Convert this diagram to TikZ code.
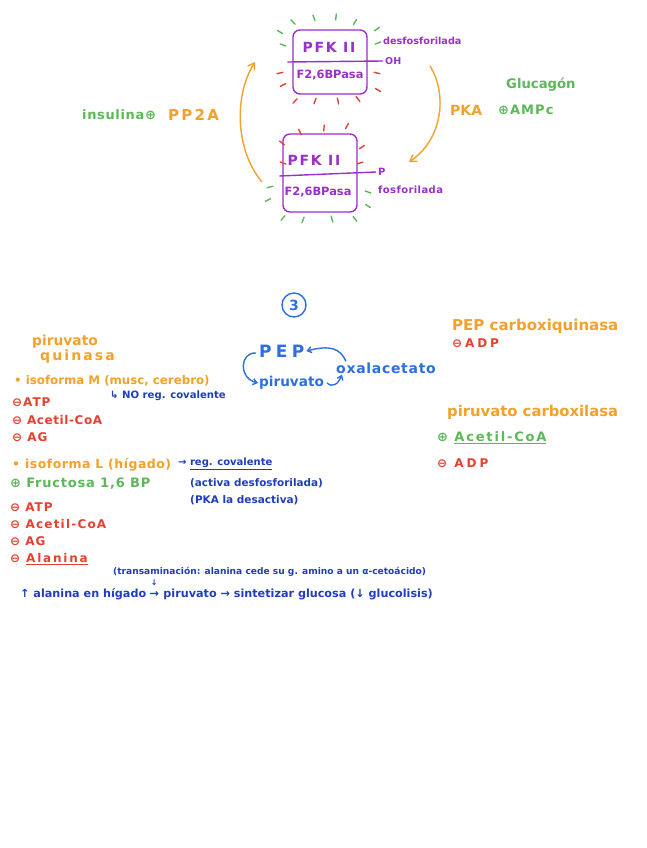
\documentclass[tikz,border=0pt]{standalone}
\usepackage{fontspec}
\setmainfont{DejaVu Sans}
\usetikzlibrary{arrows.meta,calc}
\definecolor{corange}{HTML}{F2A12B}
\definecolor{cgreen}{HTML}{5DB85A}
\definecolor{cpurple}{HTML}{9B2FC9}
\definecolor{cred}{HTML}{E5412F}
\definecolor{cblue}{HTML}{2D6FE3}
\definecolor{cdblue}{HTML}{1F3DBD}
\begin{document}
\begin{tikzpicture}[x=1pt,y=-1pt,
  fs/.style={font=\fontsize{#1}{#1}\bfseries\selectfont},
  fl/.style 2 args={font=\fontsize{#1}{#1}\bfseries\selectfont\addfontfeatures{LetterSpace=#2}},
  lbl/.style={inner sep=0pt, anchor=west},
  pbox/.style={draw=cpurple, line width=1.4pt, rounded corners=7pt, inner sep=0pt},
  ray/.style={line width=1.4pt, line cap=round},
  oarr/.style={corange, line width=1.4pt, -{Straight Barb[length=6pt,width=8pt]}},
  barr/.style={cblue, line width=1.4pt, -{Straight Barb[length=4pt,width=6pt]}},
]
\useasboundingbox (0,0) rectangle (646,848);
\fill[white] (0,0) rectangle (646,848);

% ---------- upper box (desfosforilada) ----------
\node[pbox, minimum width=74pt, minimum height=64pt] (box1) at (330,62) {};
\node[cpurple, fl={14}{12}, inner sep=0pt] (pfk1) at (329,47) {PFK II};
\node[cpurple, fs=11.4, inner sep=0pt] (f261) at (330,75) {F2,6BPasa};
\node[cpurple, fs=9.5, lbl] (oh) at (385,61) {OH};
\node[cpurple, fs=9.7, lbl] (desf) at (383,41) {desfosforilada};
\draw[cpurple, line width=1.4pt] ([xshift=-5pt]box1.west) -- ([xshift=-2pt]oh.west);
\coordinate (c1) at (330,62);
\foreach \x/\y in {293/22,314/18,336/17,355/22,280/32,283/45,377/29,378/43}
  \draw[ray, cgreen] ($(\x,\y)!3pt!(c1)$) -- ($(\x,\y)!-3pt!(c1)$);
\foreach \x/\y in {280/73,283/85,377/73,378/90,295/101,315/101,338/101,358/99}
  \draw[ray, cred] ($(\x,\y)!3pt!(c1)$) -- ($(\x,\y)!-3pt!(c1)$);

% ---------- lower box (fosforilada) ----------
\node[pbox, minimum width=74pt, minimum height=78pt] (box2) at (320,173) {};
\node[cpurple, fl={14}{12}, inner sep=0pt] (pfk2) at (314,160) {PFK II};
\node[cpurple, fs=11.4, inner sep=0pt] (f262) at (318,192) {F2,6BPasa};
\node[cpurple, fs=10, lbl] (pp) at (378,172) {P};
\node[cpurple, fl={10}{4}, lbl] (fosf) at (378,190) {fosforilada};
\draw[cpurple, line width=1.4pt] ([xshift=-3pt,yshift=-3pt]box2.west) -- ([xshift=-2pt]pp.west);
\coordinate (c2) at (320,175);
\foreach \x/\y in {300/132,324/128,347/126,282/143,283/163,362/147,360/163}
  \draw[ray, cred] ($(\x,\y)!3pt!(c2)$) -- ($(\x,\y)!-3pt!(c2)$);
\foreach \x/\y in {270/187,268/200,368/192,368/206,283/218,303/220,332/219,355/219}
  \draw[ray, cgreen] ($(\x,\y)!3pt!(c2)$) -- ($(\x,\y)!-3pt!(c2)$);

% ---------- cycle arrows ----------
\coordinate (la1) at (262,182);
\coordinate (la2) at (255,62);
\draw[oarr] (la1) .. controls (235,150) and (234,95) .. (la2);
\coordinate (ra1) at (430,66);
\coordinate (ra2) at (409,162);
\draw[oarr] (ra1) .. controls (448,95) and (442,140) .. (ra2);

\node[cgreen, fl={13}{5}, lbl] (insu) at (82,115) {insulina⊕};
\node[corange, fl={15}{15}, lbl] (pp2a) at (168,115) {PP2A};
\node[cgreen, fs=13.2, lbl] (gluc) at (506,85) {Glucagón};
\node[corange, fs=14, lbl] (pka) at (450,110) {PKA};
\node[cgreen, fl={13}{8}, lbl] (ampc) at (498,110) {⊕AMPc};

% ---------- section 3 ----------
\node[circle, draw=cblue, line width=1.4pt, minimum size=24pt, inner sep=0pt, cblue, fs=14] (three) at (294,305) {3};
\node[cblue, fl={17}{25}, lbl] (pep) at (259,351) {PEP};
\node[cblue, fs=13.6, lbl] (pir) at (259,383) {piruvato};
\node[cblue, fl={14}{5}, lbl] (oxa) at (336,368) {oxalacetato};
\draw[barr] ([xshift=10pt,yshift=1pt]oxa.north west) .. controls (340,348) and (330,345) .. ([xshift=2pt]pep.east);
\draw[barr] ([xshift=3pt]pir.east) .. controls (333,388) and (338,384) .. ([xshift=6pt,yshift=-1pt]oxa.south west);
\draw[barr] ([xshift=-3pt,yshift=-2pt]pep.west) .. controls (240,352) and (238,378) .. ([xshift=-1pt]pir.west);

% ---------- piruvato quinasa ----------
\node[corange, fs=13.8, lbl] (pq1) at (32,342) {piruvato};
\node[corange, fl={14}{15}, lbl] (pq2) at (40,357) {quinasa};
\node[corange, fs=11.8, lbl] (isoM) at (14,381) {• isoforma M (musc, cerebro)};
\node[cdblue, fs=10.1, lbl] (noreg) at (110,396) {↳ NO reg. covalente};
\node[cred, fl={12}{8}, lbl] (m1) at (12,402) {⊖ATP};
\node[cred, fl={12}{5}, lbl] (m2) at (12,420) {⊖ Acetil-CoA};
\node[cred, fl={12}{8}, lbl] (m3) at (12,437) {⊖ AG};
\node[corange, fl={12.5}{4}, lbl] (isoL) at (12,465) {• isoforma L (hígado)};
\node[cdblue, fs=10, lbl] (regcov) at (178,464) {→ \underline{reg. covalente}};
\node[cgreen, fl={13}{6}, lbl] (fru) at (10,484) {⊕ Fructosa 1,6 BP};
\node[cdblue, fs=10.4, lbl] (act) at (190,483) {(activa desfosforilada)};
\node[cdblue, fs=10.5, lbl] (desact) at (190,500) {(PKA la desactiva)};
\node[cred, fl={12}{8}, lbl] (l1) at (10,507) {⊖ ATP};
\node[cred, fl={12}{10}, lbl] (l2) at (10,524) {⊖ Acetil-CoA};
\node[cred, fl={12}{8}, lbl] (l3) at (10,541) {⊖ AG};
\node[cred, fl={12}{15}, lbl] (l4) at (10,559) {⊖ \underline{Alanina}};
\node[cdblue, fs=9.1, lbl] (trans) at (113,572) {(transaminación: alanina cede su g. amino a un α-cetoácido)};
\node[cdblue, fs=11.2, lbl] (b1) at (20,594) {↑ alanina en hígado};
\node[cdblue, fs=11.2, lbl] (b2) at ([xshift=3pt]b1.east) {→};
\node[cdblue, fs=11.2, lbl] (b3) at ([xshift=4pt]b2.east) {piruvato → sintetizar glucosa (↓ glucolisis)};
\node[cdblue, fs=8, inner sep=0pt] (bdown) at ([yshift=11pt]b2.center) {↓};

% ---------- right column ----------
\node[corange, fs=15, lbl] (pepck) at (452,326) {PEP carboxiquinasa};
\node[cred, fl={12}{24}, lbl] (adp1) at (452,343) {⊖ADP};
\node[corange, fs=14.8, lbl] (pc) at (447,412) {piruvato carboxilasa};
\node[cgreen, fl={13}{14}, lbl] (acoa) at (437,438) {⊕ \underline{Acetil-CoA}};
\node[cred, fl={12}{25}, lbl] (adp2) at (437,463) {⊖ ADP};
\end{tikzpicture}
\end{document}
